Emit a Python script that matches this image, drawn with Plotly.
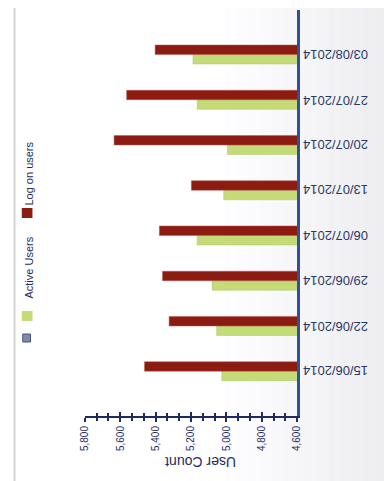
import plotly.graph_objects as go

# weekly user counts (bottom to top on the category axis)
weeks = ["15/06/2014", "22/06/2014", "29/06/2014", "06/07/2014",
         "13/07/2014", "20/07/2014", "27/07/2014", "03/08/2014"]
active_users = [5026, 5055, 5081, 5165, 5015, 4994, 5165, 5189]
logon_users = [5463, 5324, 5361, 5379, 5198, 5635, 5564, 5403]

value_ticks = [4600, 4800, 5000, 5200, 5400, 5600, 5800]
value_labels = ["4,600", "4,800", "5,000", "5,200", "5,400", "5,600", "5,800"]

# the page body has an 8px margin, so the figure is drawn 8px in and 8px smaller
OFF = 8
W, H = 392 - OFF, 481 - OFF
NAVY = "#1d2b62"
FONT = "Liberation Sans, Arial, sans-serif"


def px(x):
    # window pixel -> paper fraction
    return (x - OFF) / W


def py(y):
    return 1 - (y - OFF) / H


fig = go.Figure()
fig.add_trace(go.Bar(y=weeks, x=active_users, orientation="h", name="Active Users",
                     marker=dict(color="#c4db78", line=dict(width=0.5, color="#aac465"))))
fig.add_trace(go.Bar(y=weeks, x=logon_users, orientation="h", name="Log on users",
                     marker=dict(color="#8c1b12", line=dict(width=0.5, color="#b85a50"))))
# empty trace so the overlay axis (inner half of the ticks) gets drawn
fig.add_trace(go.Scatter(x=[], y=[], xaxis="x2", showlegend=False))

shapes = []
# soft background gradient to the right
steps = 14
for i in range(steps):
    x0 = 225 + i * (392 - 225) / steps
    g = int(255 - (i + 1) * 17 / steps)
    shapes.append(dict(type="rect", xref="paper", yref="paper", layer="below",
                       x0=px(x0), x1=px(x0 + (392 - 225) / steps + 1), y0=0, y1=1,
                       fillcolor=f"rgb({g},{g},{min(255, g + 3)})", line=dict(width=0)))
# left frame line
shapes.append(dict(type="line", xref="paper", yref="paper", x0=px(8.5), x1=px(8.5), y0=0, y1=1,
                   line=dict(color="#d4d4d4", width=2)))

# legend (rotated), reading bottom to top
shapes.append(dict(type="rect", xref="paper", yref="paper", x0=px(17), x1=px(25),
                   y0=py(342), y1=py(334), fillcolor="#7d8aa8",
                   line=dict(color="#4a5575", width=1)))
legend_items = [("Active Users", "#c4db78", 316, 268),
                ("Log on users", "#8c1b12", 213, 174)]
annotations = []
for label, col, ysw, ytxt in legend_items:
    shapes.append(dict(type="rect", xref="paper", yref="paper", x0=px(16), x1=px(27),
                       y0=py(ysw + 5), y1=py(ysw - 5), fillcolor=col, line=dict(width=0)))
    annotations.append(dict(text=label, xref="paper", yref="paper", x=px(23), y=py(ytxt),
                            xanchor="center", yanchor="middle",
                            textangle=-90, showarrow=False,
                            font=dict(size=11, color=NAVY, family=FONT)))

# category labels, upside down, to the right of the axis line
for w in weeks:
    annotations.append(dict(text=w, xref="paper", yref="y", x=px(304), y=w,
                            xanchor="left", yanchor="middle",
                            textangle=180, showarrow=False,
                            font=dict(size=13, color="#2a3868", family=FONT)))

annotations.append(dict(text="User Count", xref="paper", yref="paper", x=px(200), y=py(462),
                        xanchor="center", yanchor="middle",
                        textangle=180, showarrow=False,
                        font=dict(size=14, color=NAVY, family=FONT)))

fig.update_layout(
    width=W, height=H,
    margin=dict(l=0, r=0, t=0, b=0),
    paper_bgcolor="white", plot_bgcolor="rgba(0,0,0,0)",
    barmode="group", bargap=0.58, bargroupgap=0,
    showlegend=False,
    shapes=shapes, annotations=annotations,
    xaxis=dict(domain=[px(81), px(299.5)], range=[5800, 4600], tickvals=value_ticks,
               ticktext=value_labels, tickangle=-90, showgrid=False, zeroline=False,
               showline=True, linecolor=NAVY, linewidth=2, ticks="outside", ticklen=4,
               tickcolor=NAVY, tickwidth=1.5,
               minor=dict(dtick=200 / 3, ticks="outside", ticklen=3, tickcolor=NAVY),
               tickfont=dict(size=10, color=NAVY, family=FONT)),
    xaxis2=dict(overlaying="x", anchor="y", side="bottom", range=[5800, 4600],
                tickvals=value_ticks, showticklabels=False, showgrid=False, zeroline=False,
                ticks="inside", ticklen=4, tickcolor=NAVY, tickwidth=1.5,
                minor=dict(dtick=200 / 3, ticks="inside", ticklen=3, tickcolor=NAVY)),
    yaxis=dict(domain=[py(416), py(9.5)], range=[-0.99, 7.995], side="right",
               categoryorder="array", categoryarray=weeks, showticklabels=False,
               showgrid=False, zeroline=False, showline=True, linecolor="#2f519a",
               linewidth=3, ticks=""),
)

fig.write_html("out.html")
